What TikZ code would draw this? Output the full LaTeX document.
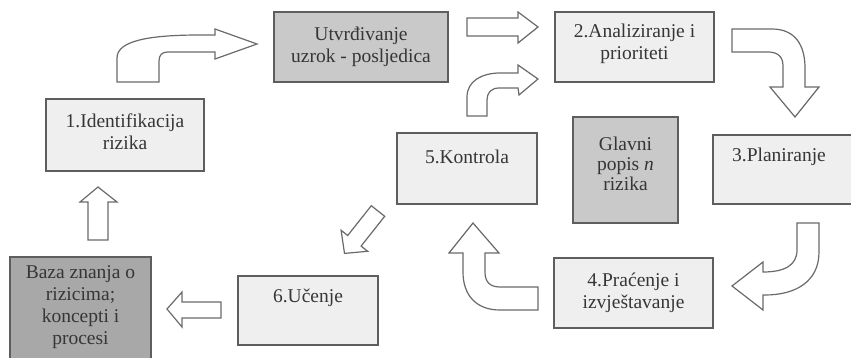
\documentclass[tikz,border=0pt]{standalone}
\usepackage{fontspec}
\setmainfont{Liberation Serif}
\definecolor{bordercol}{HTML}{5E5E5E}
\definecolor{arrowcol}{HTML}{6A6A6A}
\definecolor{textcol}{HTML}{363636}
\definecolor{lightfill}{HTML}{EFEFEF}
\definecolor{midfill}{HTML}{C9C9C9}
\definecolor{darkfill}{HTML}{A8A8A8}
\tikzset{
  box/.style={draw=bordercol, line width=1.3pt, inner sep=0pt, align=center,
    font=\fontsize{19.5}{22}\selectfont, text=textcol},
  lightbox/.style={box, fill=lightfill},
  midbox/.style={box, fill=midfill},
  darkbox/.style={box, fill=darkfill},
  txt/.style={inner sep=0pt, align=center, font=\fontsize{19.5}{22}\selectfont, text=textcol},
  blockarrow/.style={draw=arrowcol, fill=white, line width=1.2pt, line join=miter}
}
\begin{document}
\begin{tikzpicture}[x=1pt,y=-1pt]
\useasboundingbox (0,0) rectangle (851,358);
\clip (0,0) rectangle (851,358);
\fill[white] (0,0) rectangle (851,358);

% boxes
\node[lightbox, minimum width=158pt, minimum height=72pt] (b1) at (125,135) {};
\node[txt] (b1t) at (125,131.5) {1.Identifikacija\\rizika};
\node[midbox, minimum width=174pt, minimum height=70pt] (utv) at (361,47) {Utvrđivanje\\uzrok - posljedica};
\node[lightbox, minimum width=159pt, minimum height=70pt] (b2) at (634.5,47) {};
\node[txt] (b2t) at (634.5,43.5) {2.Analiziranje i\\prioriteti};
\node[midbox, minimum width=105pt, minimum height=106pt] (glavni) at (625.5,170) {};
\node[txt, font=\fontsize{19.5}{20}\selectfont] (glavnit) at (625.5,164) {Glavni\\popis \textit{n}\\rizika};
\node[lightbox, minimum width=167pt, minimum height=69pt] (b3) at (796.5,169.5) {};
\node[txt] (b3t) at (779,157) {3.Planiranje};
\node[lightbox, minimum width=140pt, minimum height=71pt] (b5) at (467,168.5) {};
\node[txt] (b5t) at (467,157) {5.Kontrola};
\node[lightbox, minimum width=159pt, minimum height=70pt] (b4) at (633.5,293) {4.Praćenje i\\izvještavanje};
\node[lightbox, minimum width=140pt, minimum height=69pt] (b6) at (308,310.5) {};
\node[txt] (b6t) at (308,298) {6.Učenje};
\node[darkbox, minimum width=141pt, minimum height=123pt] (baza) at (80.5,318.5) {};
\node[txt] (bazat) at (80.5,307) {Baza znanja o\\rizicima;\\koncepti i\\procesi};

% block arrows
% 1 -> Utvrdivanje
\draw[blockarrow] (117,82) -- (117,58) .. controls (117,41) and (148,35) .. (200,35)
  -- (215,35) -- (215,29) -- (257,44) -- (215,59) -- (215,52) -- (168,52)
  .. controls (162,52) and (159,55) .. (159,61) -- (159,82) -- cycle;
% Utvrdivanje -> 2
\draw[blockarrow] (467,18) -- (518,18) -- (518,12) -- (538,27) -- (518,43) -- (518,36) -- (467,36) -- cycle;
% 5 -> 2
\draw[blockarrow] (467,116) -- (467,97) .. controls (467,81) and (482,73) .. (500,73)
  -- (518,73) -- (518,65) -- (538,79) -- (519,95) -- (518,88) -- (499,88)
  .. controls (491,88) and (487,93) .. (487,100) -- (487,116) -- cycle;
% 2 -> 3
\draw[blockarrow] (732,29) -- (772,29) .. controls (795,29) and (805,45) .. (805,68)
  -- (805,87) -- (819,87) -- (795,117) -- (770,87) -- (783,87) -- (783,66)
  .. controls (783,57) and (778,52) .. (768,52) -- (732,52) -- cycle;
% 3 -> 4
\draw[blockarrow] (819,223) -- (819,252) .. controls (819,282) and (795,295) .. (765,295)
  -- (763,295) -- (763,310) -- (732,286) -- (763,262) -- (763,272)
  .. controls (785,272) and (797,265) .. (797,250) -- (797,223) -- cycle;
% 4 -> 5
\draw[blockarrow] (538,310) -- (500,310) .. controls (476,310) and (463,295) .. (463,272)
  -- (463,253) -- (449,253) -- (473,223) -- (499,253) -- (485,253) -- (485,272)
  .. controls (485,282) and (490,287) .. (500,287) -- (538,287) -- cycle;
% 5 -> 6 (diagonal)
\draw[blockarrow] (384.7,216.3) -- (361.1,246.1) -- (367.7,251.3) -- (344.5,253.4)
  -- (341.1,230.3) -- (347.7,235.5) -- (371.3,205.7) -- cycle;
% 6 -> Baza
\draw[blockarrow] (221,302) -- (182,302) -- (182,292) -- (167,309) -- (182,327) -- (182,318) -- (221,318) -- cycle;
% Baza -> 1
\draw[blockarrow] (88,240) -- (88,202) -- (80,202) -- (98,187) -- (117,202) -- (108,202) -- (108,240) -- cycle;
\end{tikzpicture}
\end{document}
